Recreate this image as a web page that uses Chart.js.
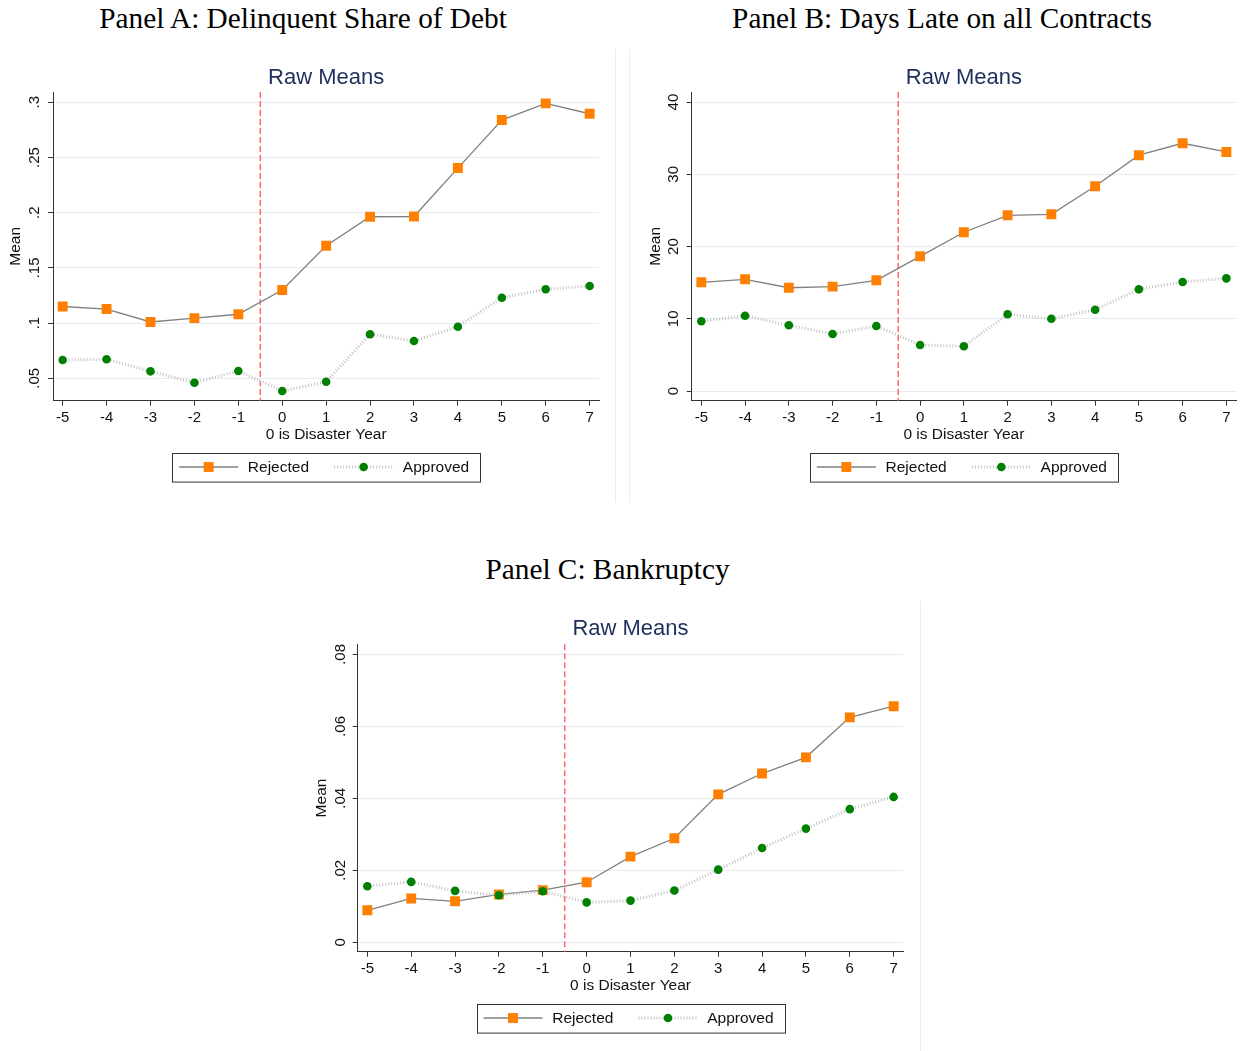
<!DOCTYPE html>
<html>
<head>
<meta charset="utf-8">
<script src="https://cdn.jsdelivr.net/npm/chart.js@4.4.1/dist/chart.umd.min.js"></script>
<style>
  html, body { margin: 0; padding: 0; background: #fff; }
  body { width: 1243px; height: 1051px; position: relative; overflow: hidden; }
  .ptitle {
    position: absolute; white-space: nowrap; transform: translateX(-50%);
    font-family: "Liberation Serif", "Times New Roman", serif; font-size: 29.3px; line-height: 29.3px; color: #000;
  }
  canvas { position: absolute; }
  .sep { position: absolute; width: 1px; background: #ececec; }
</style>
</head>
<body>
<div class="ptitle" style="left:303px; top:3.8px;">Panel A: Delinquent Share of Debt</div>
<div class="ptitle" style="left:942px; top:3.8px;">Panel B: Days Late on all Contracts</div>
<div class="ptitle" style="left:607.5px; top:554.8px;">Panel C: Bankruptcy</div>

<div class="sep" style="left:615px; top:49px; height:453px;"></div>
<div class="sep" style="left:629px; top:49px; height:453px;"></div>
<div class="sep" style="left:920px; top:601px; height:450px;"></div>

<canvas id="panelA" width="615" height="462" style="left:0px; top:40px;"></canvas>
<canvas id="panelB" width="613" height="462" style="left:630px; top:40px;"></canvas>
<canvas id="panelC" width="630" height="461" style="left:290px; top:590px;"></canvas>

<script>
// Years relative to the disaster
const years = [-5, -4, -3, -2, -1, 0, 1, 2, 3, 4, 5, 6, 7];
const disasterCutoff = -0.5;

// Panel A: delinquent share of debt
const delinqRejected = [0.115, 0.1127, 0.101, 0.1045, 0.108, 0.1299, 0.170, 0.1963, 0.1965, 0.2404, 0.2839, 0.299, 0.2896];
const delinqApproved = [0.0666, 0.0672, 0.0563, 0.046, 0.0566, 0.0385, 0.0469, 0.0899, 0.0838, 0.0967, 0.123, 0.1306, 0.1336];
const delinqTicks = [0.05, 0.1, 0.15, 0.2, 0.25, 0.3];
const delinqTickLabels = ['.05', '.1', '.15', '.2', '.25', '.3'];

// Panel B: days late on all contracts
const daysLateRejected = [15.05, 15.47, 14.3, 14.45, 15.33, 18.65, 21.98, 24.33, 24.47, 28.35, 32.65, 34.3, 33.1];
const daysLateApproved = [9.65, 10.43, 9.1, 7.9, 9.0, 6.37, 6.19, 10.62, 10.0, 11.26, 14.08, 15.1, 15.6];
const daysLateTicks = [0, 10, 20, 30, 40];
const daysLateTickLabels = ['0', '10', '20', '30', '40'];

// Panel C: bankruptcy
const bankruptRejected = [0.0089, 0.0122, 0.0114, 0.0133, 0.0145, 0.0167, 0.0238, 0.0289, 0.0411, 0.0469, 0.0514, 0.0625, 0.0656];
const bankruptApproved = [0.0156, 0.0168, 0.0143, 0.0131, 0.0142, 0.0111, 0.0116, 0.0144, 0.0202, 0.0262, 0.0316, 0.0370, 0.0404];
const bankruptTicks = [0, 0.02, 0.04, 0.06, 0.08];
const bankruptTickLabels = ['0', '.02', '.04', '.06', '.08'];

const FONT = '"Liberation Sans", Arial, Helvetica, sans-serif';
const TICK_FONT = 15;
const LABEL_FONT = 15.5;
const TICK_LEN = 5;
const X_AXIS_H = 43.3;
const AXIS_COLOR = '#333';
const TEXT_COLOR = '#111';

Chart.defaults.font.family = FONT;

// vertical dashed marker between year -1 and year 0
const eventLine = {
  id: 'eventLine',
  beforeDatasetsDraw(chart, args, opts) {
    const { ctx, chartArea: { top, bottom }, scales: { x } } = chart;
    const px = x.getPixelForValue(opts.value);
    ctx.save();
    ctx.strokeStyle = '#ff6a6a';
    ctx.lineWidth = 1.5;
    ctx.setLineDash([6, 3]);
    ctx.beginPath();
    ctx.moveTo(px, top);
    ctx.lineTo(px, bottom);
    ctx.stroke();
    ctx.restore();
  }
};

// boxed legend with line + marker samples below the x-axis title
const boxLegend = {
  id: 'boxLegend',
  afterDraw(chart, args, opts) {
    const { ctx, chartArea } = chart;
    const w = 308, h = 28.6;
    const bx = (chartArea.left + chartArea.right) / 2 - w / 2;
    const by = chartArea.bottom + opts.gap;
    const cy = by + h / 2;
    ctx.save();
    ctx.strokeStyle = '#333';
    ctx.lineWidth = 1;
    ctx.strokeRect(Math.round(bx) + 0.5, Math.round(by) + 0.5, w, h);

    const entries = ['Rejected', 'Approved'].map(lbl => chart.data.datasets.find(d => d.label === lbl));
    entries.forEach((ds, i) => {
      const ox = bx + i * 155;
      ctx.save();
      ctx.strokeStyle = ds.borderColor;
      ctx.lineWidth = ds.borderWidth;
      ctx.setLineDash(ds.borderDash || []);
      ctx.beginPath();
      ctx.moveTo(ox + 7, cy);
      ctx.lineTo(ox + 66, cy);
      ctx.stroke();
      ctx.restore();
      ctx.fillStyle = ds.pointBackgroundColor;
      const mx = ox + 36.5;
      if (ds.pointStyle === 'rect') {
        const s = ds.pointRadius * Math.SQRT1_2;
        ctx.fillRect(mx - s, cy - s, 2 * s, 2 * s);
      } else {
        ctx.beginPath();
        ctx.arc(mx, cy, ds.pointRadius, 0, Math.PI * 2);
        ctx.fill();
      }
      ctx.fillStyle = TEXT_COLOR;
      ctx.font = LABEL_FONT + 'px ' + FONT;
      ctx.textBaseline = 'alphabetic';
      ctx.fillText(ds.label, ox + 75.7, by + 19.6);
    });
    ctx.restore();
  }
};

function makePanel(id, cfg) {
  const canvas = document.getElementById(id);
  const mctx = canvas.getContext('2d');
  mctx.font = TICK_FONT + 'px ' + FONT;
  const widest = Math.max(...cfg.tickLabels.map(t => mctx.measureText(t).width));
  const yLabelPad = cfg.labelOffset - TICK_LEN - widest / 2;

  const toPoints = arr => years.map((x, i) => ({ x, y: arr[i] }));

  return new Chart(canvas, {
    type: 'line',
    data: {
      datasets: [
        {
          label: 'Rejected',
          data: toPoints(cfg.rejected),
          borderColor: '#808080',
          borderWidth: 1.3,
          pointStyle: 'rect',
          pointRadius: 7,
          pointHoverRadius: 7,
          pointBackgroundColor: '#ff7f00',
          pointBorderWidth: 0,
          tension: 0,
          order: 1
        },
        {
          label: 'Approved',
          data: toPoints(cfg.approved),
          borderColor: '#c2c2c2',
          borderWidth: 3,
          borderDash: [1, 2],
          pointStyle: 'circle',
          pointRadius: 4.3,
          pointHoverRadius: 4.3,
          pointBackgroundColor: '#008000',
          pointBorderWidth: 0,
          tension: 0,
          order: 0
        }
      ]
    },
    options: {
      responsive: false,
      animation: false,
      events: [],
      layout: {
        padding: { top: 0, left: 0, right: cfg.right, bottom: canvas.height - cfg.bottom - X_AXIS_H }
      },
      plugins: {
        legend: { display: false },
        tooltip: { enabled: false },
        title: {
          display: true,
          text: 'Raw Means',
          fullSize: false,
          color: '#1f2f5c',
          font: { size: 22, weight: 'normal', family: FONT },
          padding: { top: cfg.titleCenter - 13.2, bottom: cfg.top - cfg.titleCenter - 13.2 }
        },
        eventLine: { value: disasterCutoff },
        boxLegend: { gap: 52 }
      },
      scales: {
        x: {
          type: 'linear',
          min: -5.22,
          max: 7.22,
          afterBuildTicks: s => { s.ticks = years.map(v => ({ value: v })); },
          afterFit: s => { s.height = X_AXIS_H; },
          grid: { drawOnChartArea: false, drawTicks: true, tickLength: TICK_LEN, tickColor: AXIS_COLOR },
          border: { color: AXIS_COLOR, width: 1 },
          ticks: { autoSkip: false, maxRotation: 0, minRotation: 0, padding: 3, color: TEXT_COLOR, font: { size: TICK_FONT }, callback: v => String(v) },
          title: { display: true, text: '0 is Disaster Year', color: TEXT_COLOR, font: { size: LABEL_FONT }, padding: { top: 0, bottom: 0 } }
        },
        y: {
          type: 'linear',
          min: cfg.yMin,
          max: cfg.yMax,
          afterBuildTicks: s => { s.ticks = cfg.ticks.map(v => ({ value: v })); },
          afterFit: s => { s.width = cfg.left; },
          grid: { color: '#e4eef0', lineWidth: 1, drawTicks: true, tickLength: TICK_LEN, tickColor: AXIS_COLOR },
          border: { color: AXIS_COLOR, width: 1 },
          ticks: {
            minRotation: 90, maxRotation: 90, crossAlign: 'center', padding: yLabelPad,
            color: TEXT_COLOR, font: { size: TICK_FONT },
            callback: (v, i) => cfg.tickLabels[i]
          },
          title: { display: true, text: 'Mean', color: TEXT_COLOR, font: { size: LABEL_FONT }, padding: { top: cfg.yTitlePad, bottom: 0 } }
        }
      }
    },
    plugins: [eventLine, boxLegend]
  });
}

makePanel('panelA', {
  rejected: delinqRejected, approved: delinqApproved,
  ticks: delinqTicks, tickLabels: delinqTickLabels,
  yMin: 0.0297, yMax: 0.3093,
  top: 52, bottom: 360.7, left: 53, right: 15.7,
  titleCenter: 38, labelOffset: 17.7, yTitlePad: 6.7
});

makePanel('panelB', {
  rejected: daysLateRejected, approved: daysLateApproved,
  ticks: daysLateTicks, tickLabels: daysLateTickLabels,
  yMin: -1.34, yMax: 41.4,
  top: 52, bottom: 360.7, left: 61.7, right: 5,
  titleCenter: 38, labelOffset: 17.9, yTitlePad: 16.2
});

makePanel('panelC', {
  rejected: bankruptRejected, approved: bankruptApproved,
  ticks: bankruptTicks, tickLabels: bankruptTickLabels,
  yMin: -0.0026, yMax: 0.0828,
  top: 54.3, bottom: 361.7, left: 67.7, right: 16.7,
  titleCenter: 39, labelOffset: 16.4, yTitlePad: 22.7
});
</script>
</body>
</html>
